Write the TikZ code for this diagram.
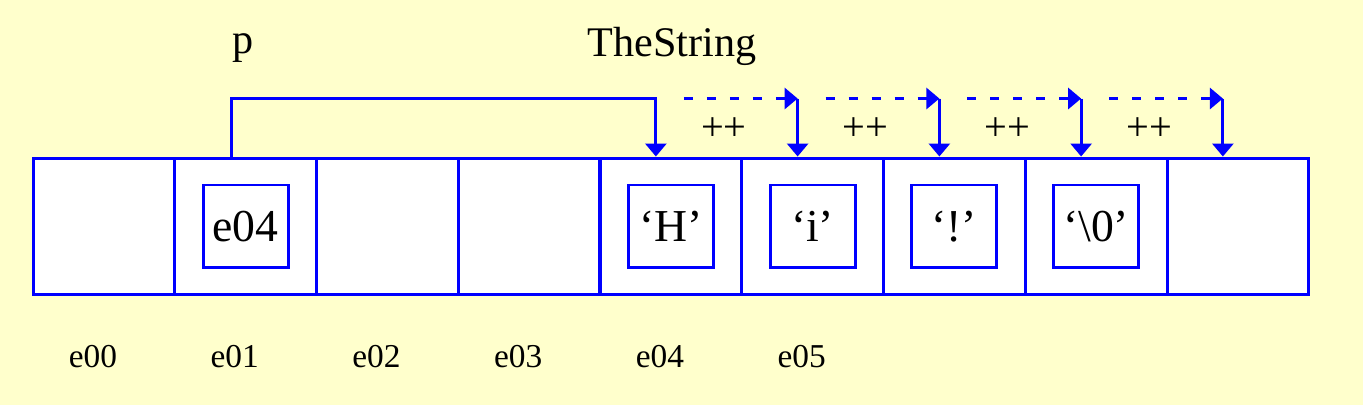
\documentclass[tikz,border=0pt]{standalone}
\usepackage{fontspec}
\setmainfont{Liberation Serif}
\usepackage{tikz}
\usetikzlibrary{arrows.meta,positioning,calc}
\definecolor{bgyellow}{HTML}{FFFFCC}
\definecolor{memblue}{HTML}{0000FF}

\begin{document}
\begin{tikzpicture}[x=0.02cm,y=-0.02cm,
  cell/.style={rectangle,draw=memblue,line width=1.7pt,fill=white,
               minimum width=2.835cm,minimum height=2.74cm,inner sep=0pt},
  valbox/.style={rectangle,draw=memblue,line width=1.7pt,
                 minimum width=1.7cm,minimum height=1.66cm,inner sep=0pt,
                 font=\fontsize{26}{30}\selectfont},
  addr/.style={font=\fontsize{19}{22}\selectfont},
  arrow/.style={memblue,line width=1.7pt,-{Triangle[width=0.42cm,length=0.26cm]}}]

% background
\fill[bgyellow] (0,0) rectangle (1363,405);

%% ---------- memory cells ----------
\foreach \i in {0,...,8}
  \node[cell](c\i) at ({33+141.75*(\i+0.5)},226.5){};

% values
\node[valbox](v1) at (c1){e04};
\node[valbox](v4) at (c4){`H'};
\node[valbox](v5) at (c5){`i'};
\node[valbox](v6) at (c6){`!'};
\node[valbox](v7) at (c7){`\textbackslash0'};

% addresses
\foreach \i in {0,...,5}
  \node[addr](a\i) at ($(c\i.south)+(-11,60)$){e0\i};

% names
\node[font=\fontsize{24}{28}\selectfont](p) at (243,48){p};
\node[font=\fontsize{24}{28}\selectfont](TheString) at (672,46){TheString};

%% ---------- pointers ----------
\coordinate (ps) at ($(c1.north)+(-14,0)$);
\foreach \i in {4,...,8}
  \coordinate (t\i) at ($(c\i.north)+(-15,0)$);

% p -> e04
\draw[arrow] (ps) -- ++(0,-58) -| (t4);

% p++ steps
\foreach \a/\b in {4/5,5/6,6/7,7/8}{
  \draw[arrow,dash pattern=on 0.18cm off 0.28cm]
    ($(t\a)+(28,-58)$) -- ($(t\b)+(0,-58)$);
  \draw[arrow] ($(t\b)+(0,-58)$) -- (t\b);
  \node[font=\fontsize{23}{26}\selectfont](inc\a) at ($(c\a.north)+(53,-27)$){++};
}

\end{tikzpicture}
\end{document}
